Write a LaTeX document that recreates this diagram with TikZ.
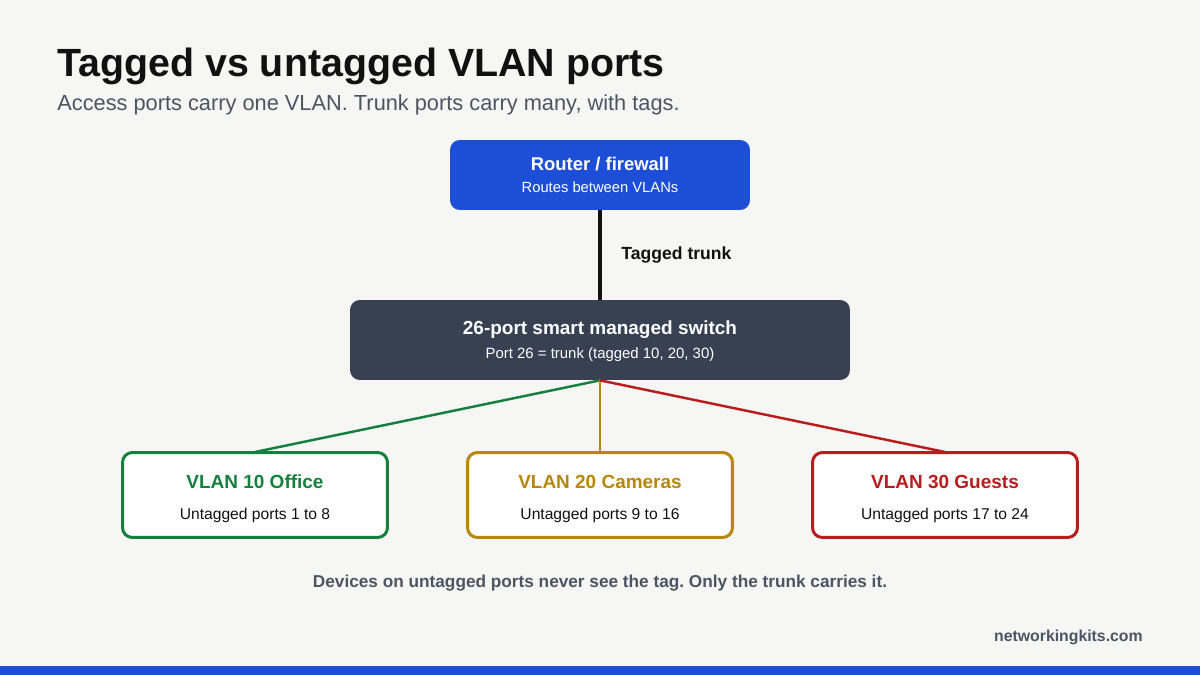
\documentclass[tikz,border=0pt]{standalone}
\usepackage{fontspec}
\setmainfont{Liberation Sans}
\frenchspacing
\definecolor{pagebg}{HTML}{F6F6F4}
\definecolor{inkdark}{HTML}{111111}
\definecolor{inkgray}{HTML}{4B5563}
\definecolor{routerblue}{HTML}{1D4ED8}
\definecolor{switchslate}{HTML}{374151}
\definecolor{vlangreen}{HTML}{15803D}
\definecolor{vlangold}{HTML}{B8860B}
\definecolor{vlanred}{HTML}{B91C1C}
\begin{document}
\begin{tikzpicture}[x=0.02cm, y=-0.02cm,
  darkbox/.style={rounded corners=5.6pt, inner sep=0pt},
  vlanbox/.style={rounded corners=5.6pt, draw, line width=1.7pt, fill=white, minimum width=5.3cm, minimum height=1.7cm, inner sep=0pt},
  vlanlink/.style={line width=1.4pt},
  boxhead/.style={anchor=base, inner sep=0pt, font=\bfseries\fontsize{10.8}{13}\selectfont},
  boxsub/.style={anchor=base, inner sep=0pt, font=\fontsize{8.9}{11}\selectfont, text=inkdark}]

\fill[pagebg] (0,0) rectangle (1200,675);
\useasboundingbox (0,0) rectangle (1200,675);
\fill[routerblue] (0,666) rectangle (1200,675);

\node [anchor=base west, inner sep=0pt, text=inkdark, font=\bfseries\fontsize{22.4}{26}\selectfont] (title) at (57,77) {Tagged vs untagged VLAN ports};
\node [anchor=base west, inner sep=0pt, text=inkgray, font=\fontsize{12.4}{15}\selectfont] (subtitle) at (57,111) {Access ports carry one VLAN. Trunk ports carry many, with tags.};

\node [darkbox, fill=routerblue, minimum width=6cm, minimum height=1.4cm] (router) at (600,175) {};
\node [boxhead, text=white, font=\bfseries\fontsize{10.5}{13}\selectfont] (routerhead) at (600,171) {Router / firewall};
\node [boxsub, text=white, font=\fontsize{8.4}{10}\selectfont] (routersub) at (600,193) {Routes between VLANs};

\node [darkbox, fill=switchslate, minimum width=10cm, minimum height=1.6cm] (switch) at (600,340) {};
\node [boxhead, text=white] (switchhead) at (600,335) {26-port smart managed switch};
\node [boxsub, text=white, font=\fontsize{8.5}{10}\selectfont] (switchsub) at (600,358) {Port 26 = trunk (tagged 10, 20, 30)};

\draw [line width=2.8pt, inkdark] (router.south) -- node [anchor=west, xshift=0.38cm, inner sep=0pt, font=\bfseries\fontsize{10}{12}\selectfont] (trunklabel) {Tagged trunk} (switch.north);

\draw [vlanlink, vlangreen] (switch.south) -- (255,452);
\draw [vlanlink, vlangold] (switch.south) -- (600,452);
\draw [vlanlink, vlanred] (switch.south) -- (945,452);

\node [vlanbox, draw=vlangreen] (vlan10) at (255,495) {};
\node [vlanbox, draw=vlangold] (vlan20) at (600,495) {};
\node [vlanbox, draw=vlanred] (vlan30) at (945,495) {};

\node [boxhead, text=vlangreen] (vlan10head) at (255,488) {VLAN 10 Office};
\node [boxsub] (vlan10sub) at (255,519) {Untagged ports 1 to 8};
\node [boxhead, text=vlangold] (vlan20head) at (600,488) {VLAN 20 Cameras};
\node [boxsub] (vlan20sub) at (600,519) {Untagged ports 9 to 16};
\node [boxhead, text=vlanred] (vlan30head) at (945,488) {VLAN 30 Guests};
\node [boxsub] (vlan30sub) at (945,519) {Untagged ports 17 to 24};

\node [anchor=base, inner sep=0pt, text=inkgray, font=\bfseries\fontsize{9.8}{12}\selectfont] (footnote) at (600,587) {Devices on untagged ports never see the tag. Only the trunk carries it.};
\node [anchor=base east, inner sep=0pt, text=inkgray, font=\bfseries\fontsize{9}{11}\selectfont] (siteurl) at (1143,641) {networkingkits.com};
\end{tikzpicture}
\end{document}
